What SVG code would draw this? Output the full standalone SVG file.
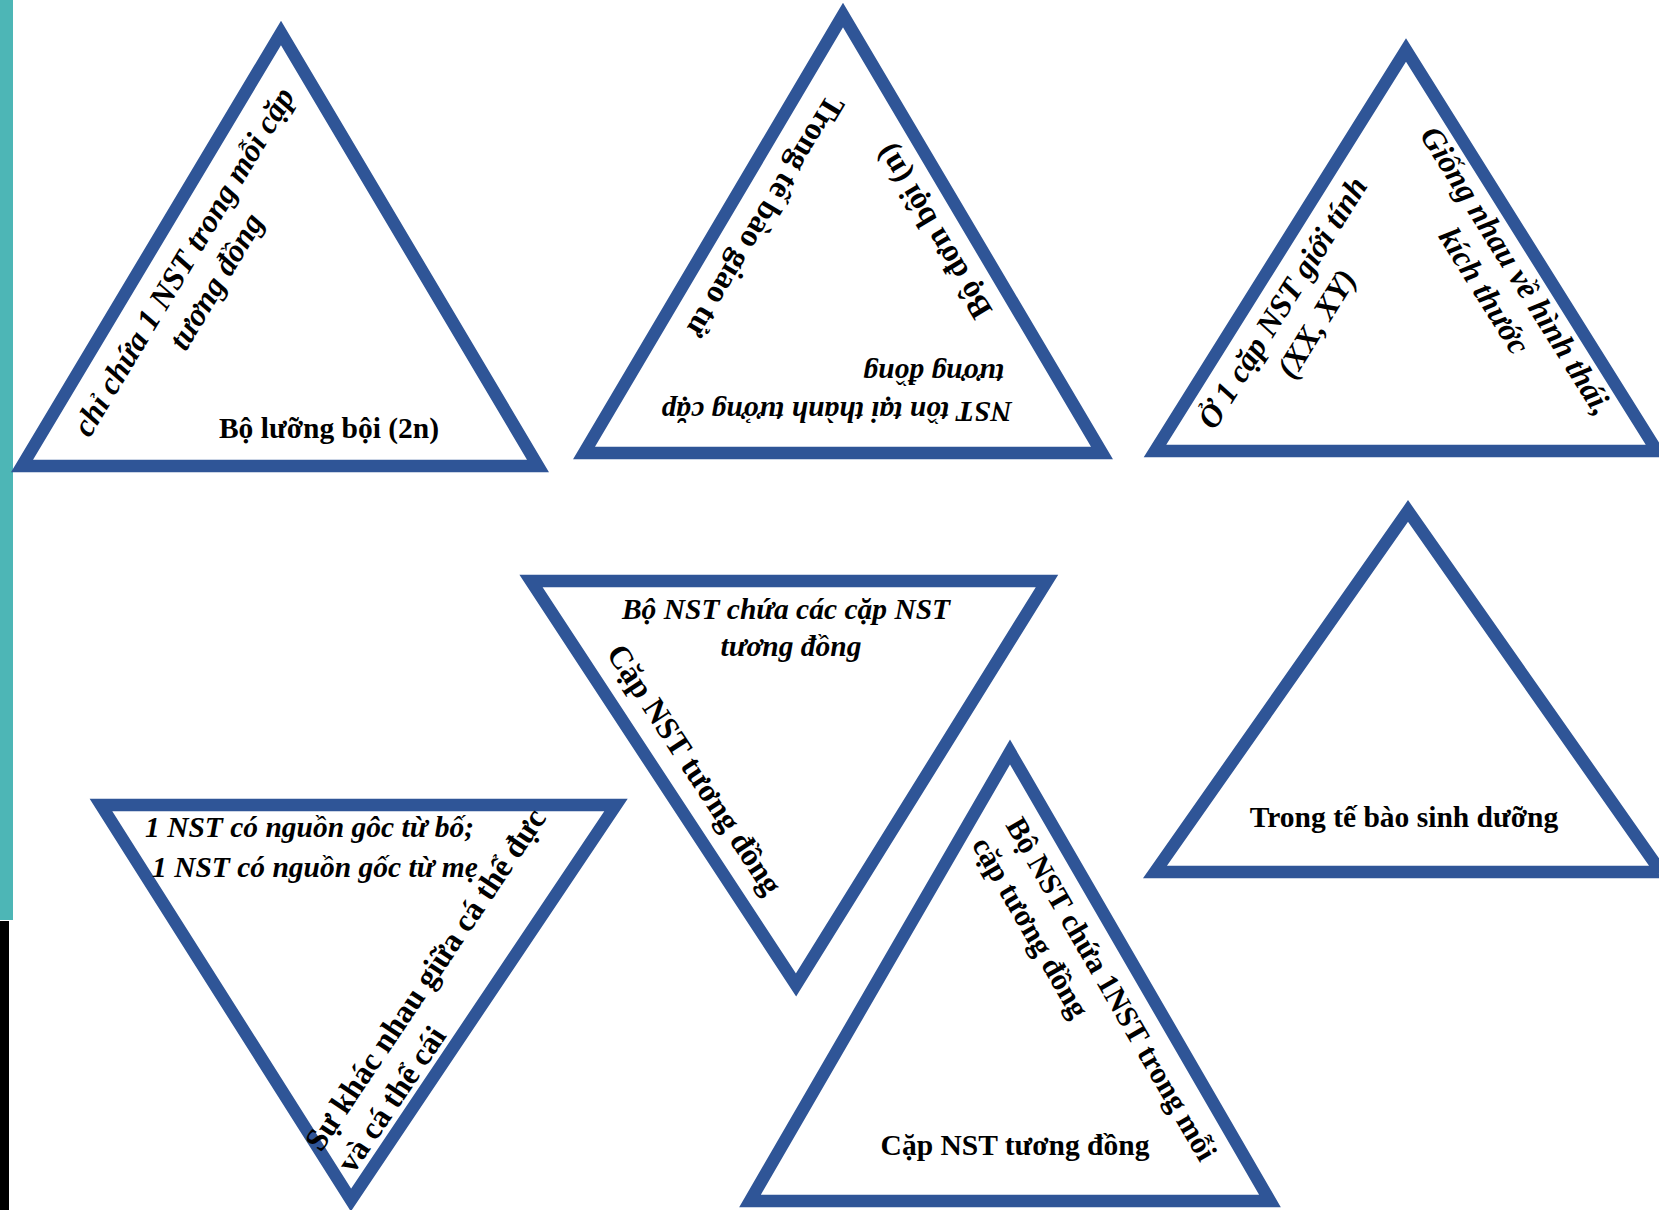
<svg xmlns="http://www.w3.org/2000/svg" width="1659" height="1210" viewBox="0 0 1659 1210">
<style>
.tri{fill:#ffffff;stroke:#2F5597;stroke-width:12.5;stroke-linejoin:miter;stroke-miterlimit:10}
.t{font-family:"Liberation Serif","Times New Roman",serif;font-weight:bold;font-size:29.5px;fill:#000}
.r{font-size:32px}
.r2{font-size:30.5px}
.i{font-style:italic}
.m{text-anchor:middle}
</style>
<rect x="0" y="0" width="1659" height="1210" fill="#ffffff"/>
<rect x="0" y="0" width="13" height="920" fill="#4DB6B6"/>
<rect x="0" y="921" width="9" height="289" fill="#000000"/>
<g id="connectors"></g>
<g id="tri1">
<polygon class="tri" points="281,33 22,466 538,466"/>
<text class="t" x="329" y="438" text-anchor="middle">Bộ lưỡng bội (2n)</text>
<g transform="translate(184,262) rotate(-59)">
<text class="t r i m" x="0" y="10">chỉ chứa 1 NST trong mỗi cặp</text>
<text class="t r i m" x="0" y="48">tương đồng</text>
</g>
</g>
<g id="tri2">
<polygon class="tri" points="843,15 584,453 1102,453"/>
<g transform="translate(766,217) rotate(121)">
<text class="t r m" x="0" y="11">Trong tế bào giao tử</text>
</g>
<g transform="translate(933,232) rotate(-121)">
<text class="t r m" x="0" y="11">Bộ đơn bội (n)</text>
</g>
<g transform="translate(1012,402) rotate(180)">
<text class="t i" x="0" y="0">NST tồn tại thành tưởng cặp</text>
<text class="t i" x="8" y="38">tương đồng</text>
</g>
</g>
<g id="tri3">
<polygon class="tri" points="1406,50 1155,451 1657,451"/>
<g transform="translate(1283,303) rotate(-58)">
<text class="t r i m" x="0" y="10">Ở 1 cặp NST giới tính</text>
<text class="t r i m" x="0" y="50">(XX, XY)</text>
</g>
<g transform="translate(1516,271) rotate(58)">
<text class="t r i m" x="0" y="10">Giống nhau về hình thái,</text>
<text class="t r i m" x="0" y="48">kích thước</text>
</g>
</g>
<g id="tri4">
<polygon class="tri" points="531,581 1047,581 796,985"/>
<text class="t i m" x="786" y="619">Bộ NST chứa các cặp NST</text>
<text class="t i m" x="791" y="656">tương đồng</text>
<g transform="translate(695,769) rotate(56.7)">
<text class="t r m" x="0" y="11">Cặp NST tương đồng</text>
</g>
</g>
<g id="tri5">
<polygon class="tri" points="101,805 616,805 351,1200"/>
<text class="t i" x="145" y="837">1 NST có nguồn gôc từ bố;</text>
<text class="t i" x="152" y="877">1 NST có nguồn gốc từ mẹ</text>
<g transform="translate(321,1153) rotate(-56)">
<text class="t r" x="0" y="0">Sự khác nhau giữa cá thể đực</text>
<text class="t r" x="0" y="39">và cá thể cái</text>
</g>
</g>
<g id="tri6">
<polygon class="tri" points="1010,752 750,1201 1270,1201"/>
<text class="t m" x="1015" y="1155">Cặp NST tương đồng</text>
<g transform="translate(1005,825) rotate(60)">
<text class="t r2" x="0" y="0">Bộ NST chứa 1NST trong mỗi</text>
<text class="t r2" x="0" y="39">cặp tương đồng</text>
</g>
</g>
<g id="tri7">
<polygon class="tri" points="1408,511 1155,872 1661,872"/>
<text class="t m" x="1404" y="827">Trong tế bào sinh dưỡng</text>
</g>
</svg>
